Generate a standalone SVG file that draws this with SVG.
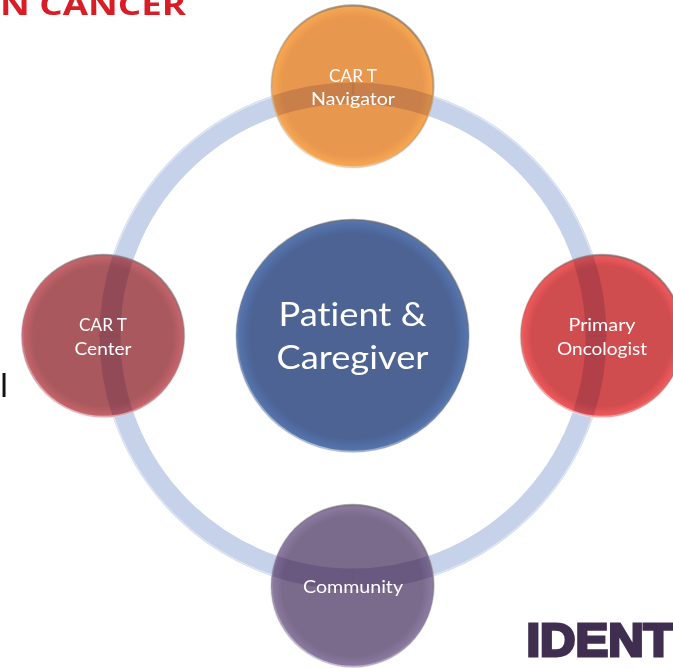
<svg xmlns="http://www.w3.org/2000/svg" width="673" height="668" viewBox="0 0 673 668">
<style>
.band{fill:none;stroke:#dcd6ea;stroke-width:21;mix-blend-mode:multiply}
.rim{fill:none;stroke:url(#rim);stroke-width:2.5;filter:url(#soft)}
text{font-family:Lato,"Liberation Sans",sans-serif;fill:#fff;text-anchor:middle;font-variant-ligatures:none}
.s{font-size:18px}
.l{font-size:33px}
.ring{fill:none;stroke:#c5d2ea;stroke-width:21;filter:url(#soft)}
.edge{fill:none;stroke:#dfe6f4;stroke-width:1.5;filter:url(#soft)}
.seam{stroke:#5a4a50;stroke-width:1;opacity:.3}
</style>
<defs>
<filter id="soft" x="-10%" y="-10%" width="120%" height="120%"><feGaussianBlur stdDeviation="0.7"/></filter>
<linearGradient id="rim" x1="0.7" y1="0" x2="0.3" y2="1">
<stop offset="0" stop-color="#6e6a6a" stop-opacity=".6"/>
<stop offset=".5" stop-color="#6e6a6a" stop-opacity=".15"/>
<stop offset="1" stop-color="#fff" stop-opacity=".6"/>
</linearGradient>
<radialGradient id="gO"><stop offset=".86" stop-color="#e8974f"/><stop offset=".97" stop-color="#f6a650"/><stop offset="1" stop-color="#f1a860"/></radialGradient>
<radialGradient id="gL"><stop offset=".86" stop-color="#a9595e"/><stop offset=".97" stop-color="#c4626a"/><stop offset="1" stop-color="#d87078"/></radialGradient>
<radialGradient id="gR"><stop offset=".86" stop-color="#cf4c4f"/><stop offset=".97" stop-color="#ee585a"/><stop offset="1" stop-color="#f5585a"/></radialGradient>
<radialGradient id="gB"><stop offset=".86" stop-color="#7a6a8b"/><stop offset=".97" stop-color="#8a799f"/><stop offset="1" stop-color="#9484aa"/></radialGradient>
<radialGradient id="gC"><stop offset=".88" stop-color="#4c6394"/><stop offset=".97" stop-color="#5472aa"/><stop offset="1" stop-color="#5a79b4"/></radialGradient>
<clipPath id="cT"><circle cx="352.5" cy="86.5" r="80.5"/></clipPath>
<clipPath id="cL"><circle cx="103" cy="336" r="80.5"/></clipPath>
<clipPath id="cR"><circle cx="602" cy="336" r="80.5"/></clipPath>
<clipPath id="cB"><circle cx="352.5" cy="586" r="80.5"/></clipPath>
</defs>
<rect width="673" height="668" fill="#fff"/>
<text id="heading" x="93" y="14.5" style="font-family:'Open Sans','Liberation Sans',sans-serif;font-size:28px;font-weight:700;fill:#d91d27" textLength="186" lengthAdjust="spacingAndGlyphs">N CANCER</text>
<text id="stray" x="4" y="397" style="font-family:'Liberation Sans',sans-serif;font-size:34px;fill:#111">l</text>
<g id="connectors">
<circle class="ring" cx="353" cy="336" r="243"/>
<circle class="edge" cx="353" cy="336" r="252.5"/>
</g>
<g id="node-center">
<circle cx="352.5" cy="336" r="116.5" fill="url(#gC)"/>
<circle class="rim" cx="352.5" cy="336" r="116"/>
<text class="l" x="352.5" y="326" textLength="148" lengthAdjust="spacingAndGlyphs">Patient &amp;</text>
<text class="l" x="352.5" y="369" textLength="152" lengthAdjust="spacingAndGlyphs">Caregiver</text>
</g>
<g id="node-navigator">
<circle cx="352.5" cy="86.5" r="81.5" fill="url(#gO)"/>
<circle class="band" cx="353" cy="336" r="243" clip-path="url(#cT)"/>
<line class="seam" x1="353" y1="83" x2="353" y2="95"/>
<circle class="rim" cx="352.5" cy="86.5" r="81"/>
<text class="s" x="353" y="82" textLength="48" lengthAdjust="spacingAndGlyphs">CAR T</text>
<text class="s" x="353" y="105" textLength="84" lengthAdjust="spacingAndGlyphs">Navigator</text>
</g>
<g id="node-center-site">
<circle cx="103" cy="336" r="81.5" fill="url(#gL)"/>
<circle class="band" cx="353" cy="336" r="243" clip-path="url(#cL)"/>
<line class="seam" x1="98" y1="336" x2="118" y2="336"/>
<circle class="rim" cx="103" cy="336" r="81"/>
<text class="s" x="103" y="331" textLength="48" lengthAdjust="spacingAndGlyphs">CAR T</text>
<text class="s" x="103" y="355" textLength="57" lengthAdjust="spacingAndGlyphs">Center</text>
</g>
<g id="node-oncologist">
<circle cx="602" cy="336" r="81.5" fill="url(#gR)"/>
<circle class="band" cx="353" cy="336" r="243" clip-path="url(#cR)"/>
<line class="seam" x1="587" y1="336" x2="607" y2="336"/>
<circle class="rim" cx="602" cy="336" r="81"/>
<text class="s" x="602" y="331" textLength="67" lengthAdjust="spacingAndGlyphs">Primary</text>
<text class="s" x="602" y="355" textLength="90" lengthAdjust="spacingAndGlyphs">Oncologist</text>
</g>
<g id="node-community">
<circle cx="352.5" cy="586" r="81.5" fill="url(#gB)"/>
<circle class="band" cx="353" cy="336" r="243" clip-path="url(#cB)"/>
<line class="seam" x1="353" y1="568" x2="353" y2="580"/>
<circle class="rim" cx="352.5" cy="586" r="81"/>
<text class="s" x="353" y="593" textLength="100" lengthAdjust="spacingAndGlyphs">Community</text>
</g>
<text id="logo" x="600" y="655.5" style="font-family:'Liberation Sans',sans-serif;font-size:47px;font-weight:700;fill:#402e50;stroke:#402e50;stroke-width:3" textLength="147" lengthAdjust="spacingAndGlyphs">IDENT</text>
</svg>
